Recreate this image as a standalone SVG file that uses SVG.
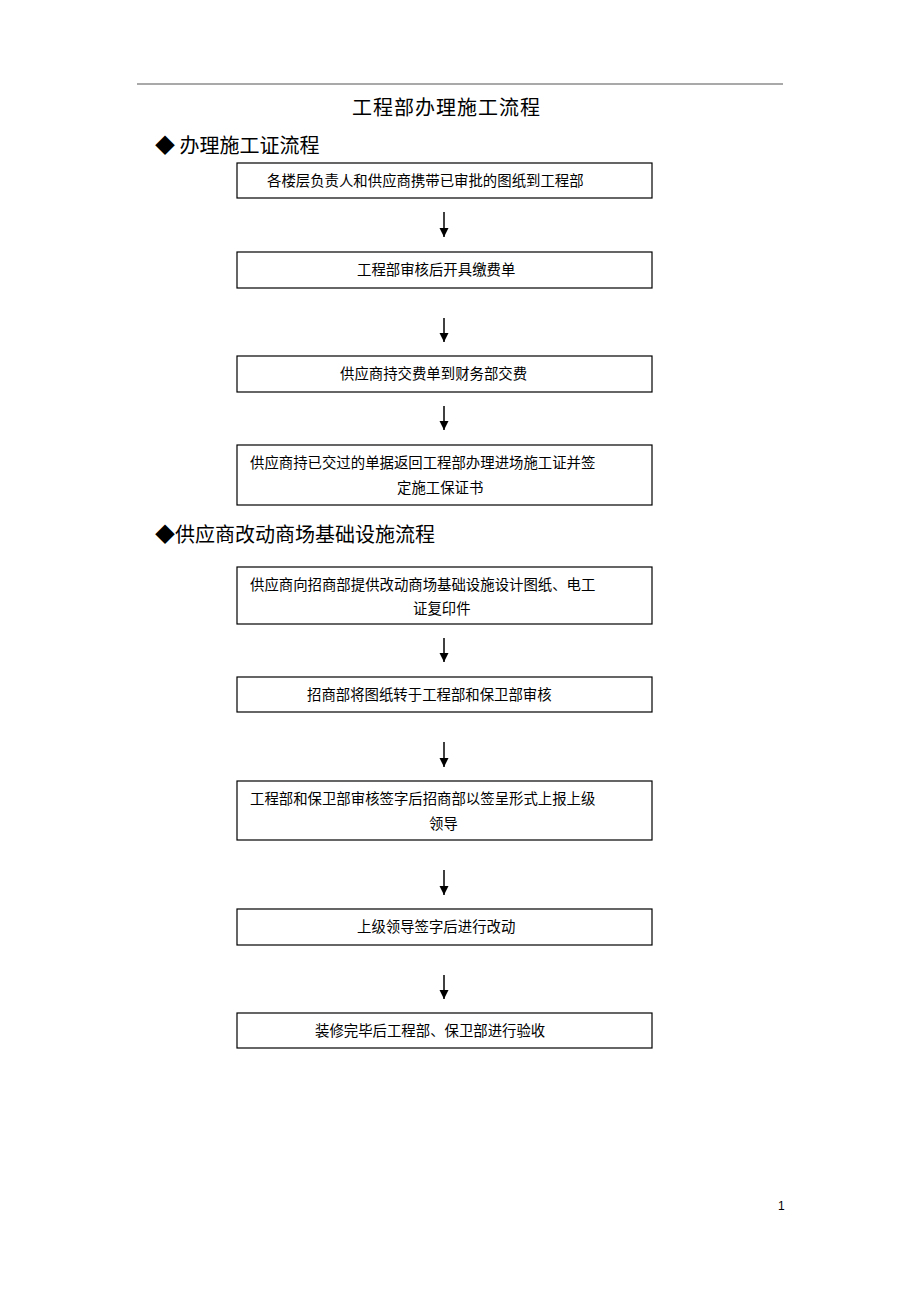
<svg xmlns="http://www.w3.org/2000/svg" width="920" height="1303" viewBox="0 0 920 1303">
<style>
.box{fill:#fff;stroke:#000;stroke-width:1.2}
.t{font-family:"Noto Sans CJK SC","Noto Sans",sans-serif;font-size:14.4px;fill:#000}
.h{font-family:"Noto Sans CJK SC","Noto Sans",sans-serif;font-size:20px;fill:#000}
.c{stroke:#000;stroke-width:1.5;fill:none}
</style>
<defs>
<marker id="arr" markerWidth="9" markerHeight="10" refX="9" refY="4.5" orient="auto" markerUnits="userSpaceOnUse">
<path d="M0,0 L9,4.5 L0,9 Z" fill="#000"/>
</marker>
</defs>
<rect width="920" height="1303" fill="#fff"/>
<line x1="137" y1="84" x2="783" y2="84" stroke="#555" stroke-width="1.2"/>
<text x="446" y="115" class="h" font-size="21" text-anchor="middle" textLength="188" lengthAdjust="spacing">工程部办理施工流程</text>
<text x="155" y="153" class="h">◆ 办理施工证流程</text>
<text x="155" y="542" class="h">◆供应商改动商场基础设施流程</text>
<text x="778" y="1210" font-family="Liberation Sans, sans-serif" font-size="12">1</text>

<g id="n1"><rect class="box" x="237" y="163" width="415" height="35"/><text class="t" x="267" y="186">各楼层负责人和供应商携带已审批的图纸到工程部</text></g>
<g id="n2"><rect class="box" x="237" y="252" width="415" height="36"/><text class="t" x="357" y="275">工程部审核后开具缴费单</text></g>
<g id="n3"><rect class="box" x="237" y="356" width="415" height="36"/><text class="t" x="340" y="379">供应商持交费单到财务部交费</text></g>
<g id="n4"><rect class="box" x="237" y="445" width="415" height="60"/><text class="t" x="250" y="468">供应商持已交过的单据返回工程部办理进场施工证并签</text><text class="t" x="397" y="493">定施工保证书</text></g>
<g id="n5"><rect class="box" x="237" y="567" width="415" height="57"/><text class="t" x="250" y="590">供应商向招商部提供改动商场基础设施设计图纸、电工</text><text class="t" x="413" y="614">证复印件</text></g>
<g id="n6"><rect class="box" x="237" y="677" width="415" height="35"/><text class="t" x="307" y="700">招商部将图纸转于工程部和保卫部审核</text></g>
<g id="n7"><rect class="box" x="237" y="781" width="415" height="59"/><text class="t" x="250" y="804">工程部和保卫部审核签字后招商部以签呈形式上报上级</text><text class="t" x="429" y="829">领导</text></g>
<g id="n8"><rect class="box" x="237" y="909" width="415" height="36"/><text class="t" x="357" y="932">上级领导签字后进行改动</text></g>
<g id="n9"><rect class="box" x="237" y="1013" width="415" height="35"/><text class="t" x="315" y="1036">装修完毕后工程部、保卫部进行验收</text></g>

<g id="connectors">
<line class="c" x1="444" y1="212" x2="444" y2="237" marker-end="url(#arr)"/>
<line class="c" x1="444" y1="318" x2="444" y2="342" marker-end="url(#arr)"/>
<line class="c" x1="444" y1="406" x2="444" y2="430" marker-end="url(#arr)"/>
<line class="c" x1="444" y1="638" x2="444" y2="662" marker-end="url(#arr)"/>
<line class="c" x1="444" y1="742" x2="444" y2="767" marker-end="url(#arr)"/>
<line class="c" x1="444" y1="870" x2="444" y2="895" marker-end="url(#arr)"/>
<line class="c" x1="444" y1="975" x2="444" y2="999" marker-end="url(#arr)"/>
</g>
</svg>
